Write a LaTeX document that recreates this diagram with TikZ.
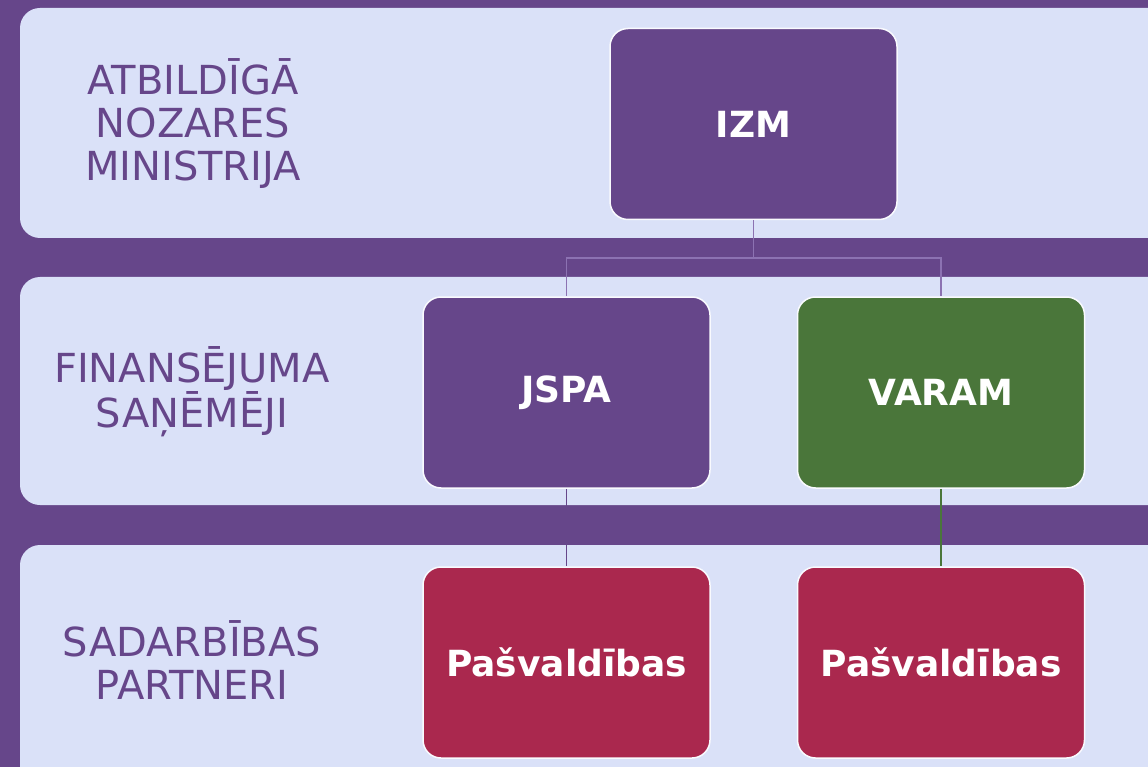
\documentclass[tikz,border=0pt]{standalone}
\usepackage{fontspec}
\setmainfont{DejaVu Sans}
\definecolor{bgpurple}{HTML}{66468A}
\definecolor{band}{HTML}{DAE1F8}
\definecolor{boxgreen}{HTML}{4A763A}
\definecolor{boxred}{HTML}{AA284E}
\definecolor{linepurple}{HTML}{8C72B2}
\begin{document}
\begin{tikzpicture}[x=1pt,y=-1pt,
  bandbox/.style={fill=band, rounded corners=20pt},
  rowlabel/.style={text=bgpurple, align=center, font=\fontsize{40}{43}\selectfont, inner sep=0pt},
  orgbox/.style={rectangle, rounded corners=18pt, minimum width=287pt, minimum height=191pt,
     draw=white!85!band, line width=1.5pt, text=white, font=\fontsize{36}{40}\selectfont\bfseries},
  conn/.style={line width=1.8pt}]
\fill[bgpurple] (0,0) rectangle (1148,767);
\useasboundingbox (0,0) rectangle (1148,767);
\begin{scope}
\clip (0,0) rectangle (1148,767);
\fill[bandbox] (20,8) rectangle (1180,238);
\fill[bandbox] (20,277) rectangle (1180,505);
\fill[bandbox] (20,545) rectangle (1180,800);
\end{scope}
\node[rowlabel] (l1) at (193,124) {ATBILDĪGĀ\\NOZARES\\MINISTRIJA};
\node[rowlabel] (l2) at (192,392) {FINANSĒJUMA\\SAŅĒMĒJI};
\node[rowlabel] (l3) at (192,660) {SADARBĪBAS\\PARTNERI};
\node[orgbox, fill=bgpurple] (izm) at (753.5,124) {IZM};
\node[orgbox, fill=bgpurple] (jspa) at (566.5,392.5) {JSPA};
\node[orgbox, fill=boxgreen] (varam) at (941,392.5) {VARAM};
\node[orgbox, fill=boxred] (p1) at (566.5,662.5) {Pašvaldības};
\node[orgbox, fill=boxred] (p2) at (941,662.5) {Pašvaldības};
\coordinate (j) at (753.5,258);
\draw[conn, linepurple] (izm.south) -- (j) -| (jspa.north);
\draw[conn, linepurple] (j) -| (varam.north);
\draw[conn, bgpurple] (jspa.south) -- (p1.north);
\draw[conn, boxgreen] (varam.south) -- (p2.north);
\end{tikzpicture}
\end{document}
